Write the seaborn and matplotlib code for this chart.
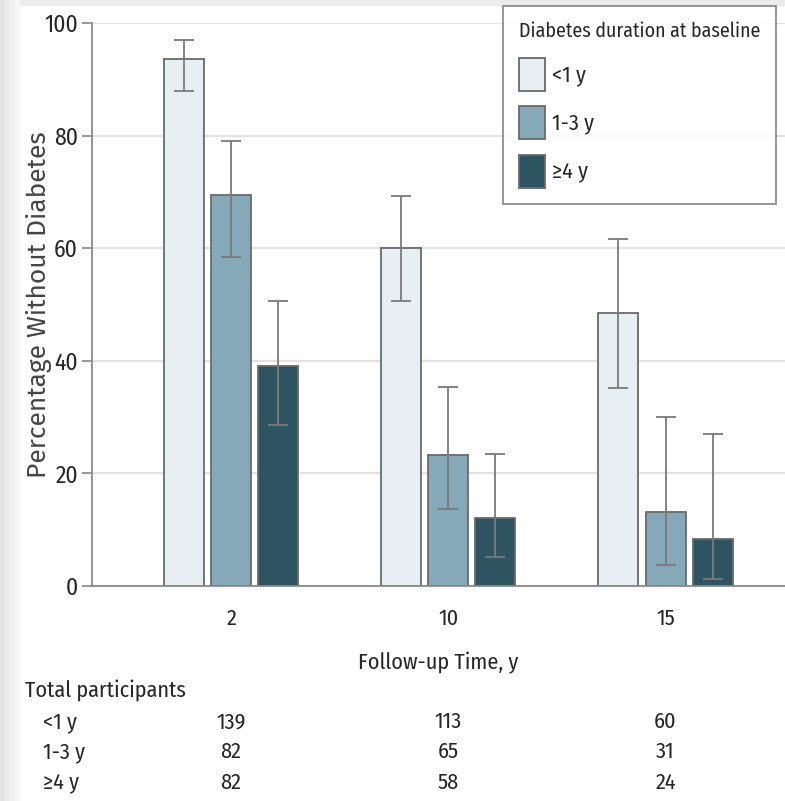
import matplotlib
matplotlib.use("Agg")
import matplotlib.pyplot as plt
import matplotlib.transforms as mtransforms
from matplotlib import font_manager
from matplotlib.patches import Rectangle
import seaborn as sns
import pandas as pd

# ---- data ----
followup = ["2", "10", "15"]
durations = ["<1 y", "1-3 y", "≥4 y"]
pct_lt1 = [93.6, 60.0, 48.5]
pct_1to3 = [69.4, 23.3, 13.1]
pct_ge4 = [39.1, 12.1, 8.3]
lo_lt1 = [87.9, 50.7, 35.2]
hi_lt1 = [96.9, 69.3, 61.7]
lo_1to3 = [58.4, 13.7, 3.7]
hi_1to3 = [79.0, 35.3, 30.0]
lo_ge4 = [28.6, 5.1, 1.2]
hi_ge4 = [50.6, 23.5, 27.0]
n_lt1 = [139, 113, 60]
n_1to3 = [82, 65, 31]
n_ge4 = [82, 58, 24]
yticks = [0, 20, 40, 60, 80, 100]

pcts = [pct_lt1, pct_1to3, pct_ge4]
los = [lo_lt1, lo_1to3, lo_ge4]
his = [hi_lt1, hi_1to3, hi_ge4]
ns = [n_lt1, n_1to3, n_ge4]

rows = []
for d, p in zip(durations, pcts):
    for f, v in zip(followup, p):
        rows.append({"followup": f, "duration": d, "pct": v})
df = pd.DataFrame(rows)

sns.set_theme(style="white")
avail = {f.name for f in font_manager.fontManager.ttflist}


def pick(names, default="DejaVu Sans"):
    for n in names:
        if n in avail:
            return n
    return default


cond = pick(["Fira Sans Condensed", "Roboto Condensed", "Archivo Narrow", "Sofia Sans Condensed"])
wide = pick(["Fira Sans", "Open Sans"])
plt.rcParams["font.family"] = [cond, "DejaVu Sans"]

FS = 16
txtc = "#262626"
colors = ["#e8eff3", "#86a9b9", "#2e5462"]
fig = plt.figure(figsize=(7.85, 8.01), dpi=100)
ax = fig.add_axes([92 / 785, 1 - 586 / 801, 1 - 92 / 785, (586 - 23) / 801])

sns.barplot(data=df, x="followup", y="pct", hue="duration", order=followup,
            hue_order=durations, palette=colors, saturation=1, errorbar=None,
            width=0.65, gap=0.15, edgecolor="#6a6a6a", linewidth=1.3, ax=ax,
            zorder=2)

for cont, p, lo, hi in zip(ax.containers, pcts, los, his):
    xs = [b.get_x() + b.get_width() / 2 for b in cont]
    yerr = [[v - l for v, l in zip(p, lo)], [h - v for v, h in zip(p, hi)]]
    ax.errorbar(xs, p, yerr=yerr, fmt="none", ecolor="#7a7a7a",
                elinewidth=1.3, capsize=7.5, capthick=1.3, zorder=3)

ax.set_ylim(0, 100)
ax.set_xlim(-0.64, 2.55)
ax.set_yticks(yticks)
ax.yaxis.grid(True, color="#e2e2e2", linewidth=1.6, zorder=0)
ax.set_axisbelow(True)
for s in ["top", "right"]:
    ax.spines[s].set_visible(False)
for s in ["left", "bottom"]:
    ax.spines[s].set_color("#8a8a8a")
    ax.spines[s].set_linewidth(1.3)
ax.tick_params(axis="y", which="major", left=True, length=7, width=1.2,
               color="#8a8a8a", labelsize=17, labelcolor=txtc, pad=3)
ax.tick_params(axis="x", bottom=False, labelsize=FS, labelcolor=txtc, pad=10)
ax.set_ylabel("Percentage Without Diabetes", fontsize=19, color="#444444",
              family=[wide, "DejaVu Sans"])
ax.yaxis.set_label_coords(-0.058, 0.499)
ax.set_xlabel("Follow-up Time, y", fontsize=FS, color=txtc, labelpad=16)

leg = ax.legend(title="Diabetes duration at baseline", loc="upper left",
                bbox_to_anchor=(0.593, 1.031), borderaxespad=0, frameon=True,
                fontsize=FS, title_fontsize=14.3, handlelength=1.15,
                handleheight=1.9, handletextpad=0.35, labelspacing=0.7,
                borderpad=0.72, fancybox=False, alignment="left")
leg._legend_box.sep = 12
leg.get_frame().set_edgecolor("#666666")
leg.get_frame().set_linewidth(1.2)
leg.set_zorder(5)
for t in leg.get_texts():
    t.set_color(txtc)
leg.get_title().set_color(txtc)

# ---- participants table ----
trans = mtransforms.blended_transform_factory(ax.transData, fig.transFigure)
fig.text(25 / 785, 1 - 690 / 801, "Total participants", fontsize=FS,
         color=txtc, va="center", ha="left")
row_y = [722, 752, 783]
for d, n, yy in zip(durations, ns, row_y):
    fig.text(43 / 785, 1 - yy / 801, d, fontsize=FS, color=txtc,
             va="center", ha="left")
    for i, v in enumerate(n):
        ax.text(i, 1 - yy / 801, str(v), transform=trans, fontsize=FS,
                color=txtc, va="center", ha="center", clip_on=False)

# screenshot-like edge shading
fig.patches.append(Rectangle((0, 1 - 6 / 801), 1, 6 / 801, transform=fig.transFigure,
                             facecolor="#ececec", edgecolor="none", zorder=-1))
for k, c in enumerate(["#e4e4e4", "#ebebeb", "#f1f1f1", "#f7f7f7"]):
    fig.patches.append(Rectangle((k * 5 / 785, 0), 5 / 785, 1, transform=fig.transFigure,
                                 facecolor=c, edgecolor="none", zorder=-1))

fig.savefig("out.png", dpi=100)
